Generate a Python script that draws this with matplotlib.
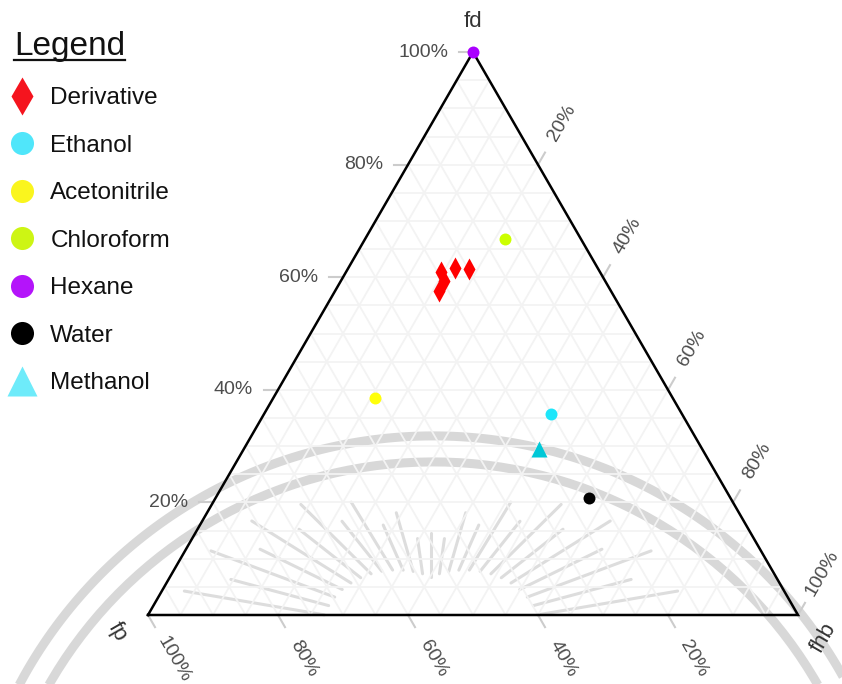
import numpy as np
import matplotlib.pyplot as plt
from matplotlib.lines import Line2D

plt.rcParams['font.family'] = ['Liberation Sans', 'DejaVu Sans']

# Teas fractions: fd (dispersion), fp (polar), fhb (H-bond)
deriv_fd = [0.609, 0.594, 0.576, 0.616, 0.614]
deriv_fp = [0.245, 0.248, 0.264, 0.219, 0.199]
deriv_fhb = [0.146, 0.158, 0.160, 0.165, 0.187]

solv_names = ['Ethanol', 'Acetonitrile', 'Chloroform', 'Hexane', 'Water', 'Methanol']
solv_fd = [0.357, 0.386, 0.668, 1.000, 0.208, 0.295]
solv_fp = [0.201, 0.458, 0.117, 0.000, 0.218, 0.251]
solv_fhb = [0.442, 0.156, 0.215, 0.000, 0.574, 0.454]

tick_vals = [0.2, 0.4, 0.6, 0.8, 1.0]
tick_labels = ['20%', '40%', '60%', '80%', '100%']

solv_colors = ['#1ee6fa', '#ffff0a', '#ccff00', '#aa00ff', '#000000', '#00c8d7']
solv_markers = ['o', 'o', 'o', 'o', 'o', '^']
legend_colors = ['#f5141e', '#50e6fa', '#faf51e', '#cdf514', '#b414fa', '#000000', '#6eebfa']

H = np.sqrt(3) / 2
PX = 1 / 650  # one pixel in triangle units


def tern(fd, fp, fhb):
    fd = np.asarray(fd, float)
    fhb = np.asarray(fhb, float)
    return fhb + fd / 2, fd * H


fig = plt.figure(figsize=(8.42, 6.84), dpi=100)
ax = fig.add_axes([0, 0, 1, 1])
ax.set_xlim(-148 * PX, 694 * PX)
ax.set_ylim(-69 * PX, 615 * PX)
ax.axis('off')

# watermark in the background (university seal, roughly)
t = np.linspace(0, 2 * np.pi, 400)
for r in [469, 443]:
    ax.plot(0.439 + r * PX * np.cos(t), -0.446 + r * PX * np.sin(t),
            color='#c8c8c8', lw=6.5, alpha=0.7, zorder=1, solid_capstyle='butt')
cx, cy = 283 * PX, -18 * PX
for i, a in enumerate(np.deg2rad(np.arange(12, 172, 6.5))):
    r_in = 70 + 40 * abs(np.cos(a))
    r_out = (125 + 130 * abs(np.cos(a))) * (1.0 if i % 2 == 0 else 0.85)
    ax.plot([cx + r_in * PX * np.cos(a), cx + r_out * PX * np.cos(a)],
            [cy + r_in * PX * 0.8 * np.sin(a), cy + r_out * PX * 0.8 * np.sin(a)],
            color='#d2d2d2', lw=2.2, alpha=0.75, zorder=1, solid_capstyle='round')

# light triangular grid every 5%
for v in np.arange(0.05, 0.999, 0.05):
    for a, b in [((v, 1 - v, 0), (v, 0, 1 - v)),
                 ((1 - v, v, 0), (0, v, 1 - v)),
                 ((1 - v, 0, v), (0, 1 - v, v))]:
        x, y = tern([a[0], b[0]], [a[1], b[1]], [a[2], b[2]])
        ax.plot(x, y, color='#f3f3f3', lw=1.3, zorder=2)

# triangle border
bx, by = tern([0, 0, 1, 0], [1, 0, 0, 1], [0, 1, 0, 0])
ax.plot(bx, by, color='black', lw=1.8, zorder=4, solid_joinstyle='miter')

# ticks and tick labels
tl = 14 * PX
for v, lab in zip(tick_vals, tick_labels):
    # fd on the left edge
    x0, y0 = tern(v, 1 - v, 0)
    ax.plot([x0, x0 - tl], [y0, y0], color='#cccccc', lw=1.5, zorder=3)
    ax.text(x0 - 25 * PX, y0, lab, ha='right', va='center', fontsize=14, color='#4d4d4d')
    # fhb on the right edge
    x0, y0 = tern(1 - v, 0, v)
    d = np.array([0.5, H])
    ax.plot([x0, x0 + tl * d[0]], [y0, y0 + tl * d[1]], color='#cccccc', lw=1.5, zorder=3)
    ax.text(x0 + 48 * PX * d[0], y0 + 48 * PX * d[1], lab, ha='center', va='center',
            rotation=60, fontsize=14, color='#4d4d4d', rotation_mode='anchor')
    # fp on the bottom edge
    x0, y0 = tern(0, v, 1 - v)
    d = np.array([0.5, -H])
    ax.plot([x0, x0 + tl * d[0]], [y0, y0 + tl * d[1]], color='#cccccc', lw=1.5, zorder=3)
    ax.text(x0 + 51 * PX * d[0], y0 + 51 * PX * d[1], lab, ha='center', va='center',
            rotation=-60, fontsize=14, color='#4d4d4d', rotation_mode='anchor')

# axis titles
ax.text(0.5, H + 31 * PX, 'fd', ha='center', va='center', fontsize=16, color='#333333')
ax.text(-31 * PX, -17 * PX, 'fp', ha='center', va='center', rotation=-60, fontsize=16,
        color='#333333', rotation_mode='anchor')
ax.text(1 + 26 * PX, -23 * PX, 'fhb', ha='center', va='center', rotation=60, fontsize=16,
        color='#333333', rotation_mode='anchor')

# data
x, y = tern(deriv_fd, deriv_fp, deriv_fhb)
ax.plot(x, y, ls='none', marker='d', ms=10.7, color='#ff0000', mec='none', zorder=5)
for i, name in enumerate(solv_names):
    x, y = tern(solv_fd[i], solv_fp[i], solv_fhb[i])
    ms = 11.5 if solv_markers[i] == '^' else 8.6
    ax.plot([x], [y], ls='none', marker=solv_markers[i], ms=ms, color=solv_colors[i],
            mec='none', zorder=5)

# legend
labels = ['Derivative'] + solv_names
markers = ['d'] + solv_markers
sizes = {'d': 19.4, 'o': 16.6, '^': 22.3}
handles = [Line2D([], [], ls='none', marker=m, ms=sizes[m], color=c, mec='none')
           for m, c in zip(markers, legend_colors)]
leg = ax.legend(handles, labels, loc='upper left', bbox_to_anchor=(7 / 842, 1 - 87 / 684),
                frameon=False, borderpad=0, borderaxespad=0, handlelength=1.2,
                handletextpad=0.58, labelspacing=1.05, fontsize=17.5)
for txt in leg.get_texts():
    txt.set_color('#111111')

title = ax.text(14 / 842, 1 - 46 / 684, 'Legend', transform=ax.transAxes, ha='left',
                va='center', fontsize=24, color='#111111')
fig.canvas.draw()
bb = title.get_window_extent()
fig.add_artist(Line2D([bb.x0 / 842, bb.x1 / 842], [(bb.y0 + 2) / 684] * 2,
                      transform=fig.transFigure, color='#111111', lw=1.6))

fig.savefig('out.png', dpi=100)
